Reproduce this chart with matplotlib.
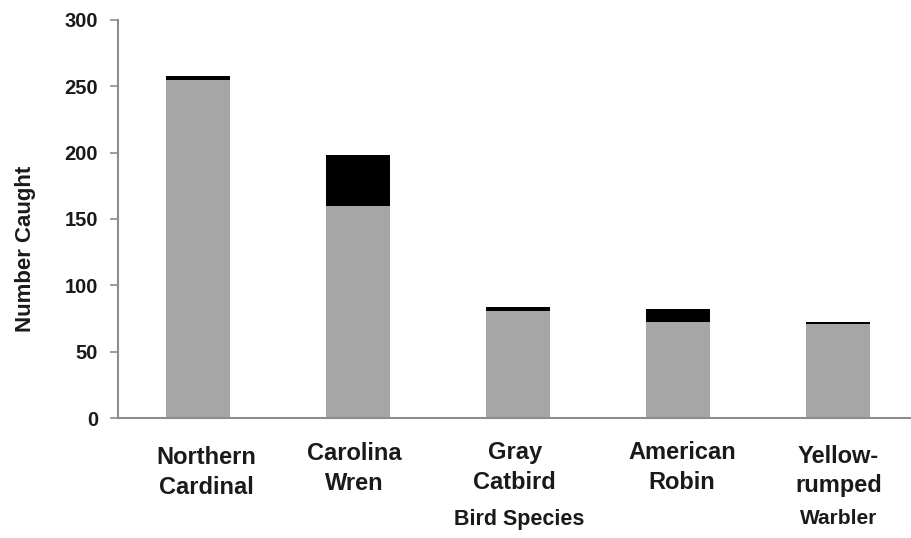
import numpy as np
import matplotlib.pyplot as plt
import matplotlib.transforms as mtransforms

# data
species = ["Northern\nCardinal", "Carolina\nWren", "Gray\nCatbird", "American\nRobin", "Yellow-\nrumped"]
gray_part = [255, 160, 81, 72, 70.5]
black_part = [3, 38, 3, 10, 1.5]
yticks = [0, 50, 100, 150, 200, 250, 300]

plt.rcParams['font.family'] = ['Liberation Sans', 'DejaVu Sans']

fig = plt.figure(figsize=(9.12, 5.38), dpi=100)
ax = fig.add_axes([0.129, 0.223, 0.871, 0.740])

x = np.arange(len(species))
ax.bar(x, gray_part, width=0.4, color="#a6a6a6")
ax.bar(x, black_part, width=0.4, bottom=gray_part, color="#000000")

ax.set_xlim(-0.5, 4.46)
ax.set_ylim(0, 300)
ax.set_yticks(yticks)
ax.set_yticklabels([str(v) for v in yticks], fontsize=14.5, fontweight="bold", color="#1a1a1a")
ax.set_xticks([])

for s in ["top", "right"]:
    ax.spines[s].set_visible(False)
for s in ["left", "bottom"]:
    ax.spines[s].set_color("#8c8c8c")
    ax.spines[s].set_linewidth(1.5)
ax.tick_params(axis="y", direction="out", length=6, width=1.2, color="#8c8c8c", pad=8)

# category labels, a bit uneven as in the original
trans = mtransforms.blended_transform_factory(ax.transData, fig.transFigure)
label_dx = [0.055, -0.025, -0.02, 0.025, 0.0]
label_y = [0.122, 0.129, 0.131, 0.131, 0.125]
for i, lab in enumerate(species):
    ax.text(x[i] + label_dx[i], label_y[i], lab, transform=trans, ha="center", va="center",
            fontsize=17, fontweight="bold", color="#1a1a1a", linespacing=1.35)
ax.text(x[4], 0.036, "Warbler", transform=trans, ha="center", va="center",
        fontsize=15, fontweight="bold", color="#1a1a1a")
ax.text(x[2] + 0.005, 0.034, "Bird Species", transform=trans, ha="center", va="center",
        fontsize=15.5, fontweight="bold", color="#1a1a1a")

fig.text(0.028, 0.537, "Number Caught", rotation=90, ha="center", va="center",
         fontsize=16, fontweight="bold", color="#1a1a1a")

fig.savefig("out.png", dpi=100)
